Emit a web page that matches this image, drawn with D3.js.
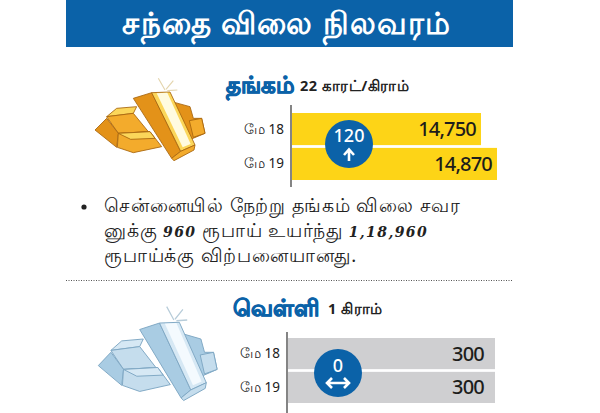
<!DOCTYPE html>
<html>
<head>
<meta charset="utf-8">
<script src="https://cdn.jsdelivr.net/npm/d3@7"></script>
<style>
  html, body { margin: 0; padding: 0; background: #fff; }
  svg { display: block; }
  text { font-family: "Noto Sans", "Liberation Sans", sans-serif; }
</style>
</head>
<body>
<svg id="chart" width="600" height="413"></svg>
<script>
const dates = ["மே 18", "மே 19"];
const goldValues = [14750, 14870];
const silverValues = [300, 300];
const goldChange = "120";
const silverChange = "0";
const titleText = "சந்தை விலை நிலவரம்";
const goldName = "தங்கம்";
const goldUnit = "22 காரட்/கிராம்";
const silverName = "வெள்ளி";
const silverUnit = "1 கிராம்";
const noteLines = [
  "சென்னையில் நேற்று தங்கம் விலை சவர",
  "னுக்கு 960 ரூபாய் உயர்ந்து 1,18,960",
  "ரூபாய்க்கு விற்பனையானது."
];

const BLUE = "#0b62a8";
const svg = d3.select("#chart");

// title band
svg.append("rect").attr("x", 66).attr("y", 0).attr("width", 447).attr("height", 47).attr("fill", BLUE);
svg.append("text").attr("x", 287).attr("y", 33.5).attr("text-anchor", "middle")
  .attr("font-size", 30.5).attr("letter-spacing", 1.2).attr("font-weight", 700).attr("fill", "#fff").text(titleText);

// headings
function heading(x, y, name, unit, unitX) {
  svg.append("text").attr("x", x).attr("y", y).attr("font-size", 23).attr("font-weight", 900)
    .attr("fill", BLUE).attr("stroke", BLUE).attr("stroke-width", 0.9).text(name);
  svg.append("text").attr("x", unitX).attr("y", y - 2).attr("font-size", 14.5).attr("font-weight", 700)
    .attr("font-family", "DejaVu Sans, Noto Sans, sans-serif")
    .attr("fill", "#222").attr("letter-spacing", 0.5).text(unit);
}
heading(226, 93, goldName, goldUnit, 300);
heading(233, 316, silverName, silverUnit, 328);

// one bar panel
function panel(opts) {
  const y = d3.scaleBand().domain(dates).range([opts.top, opts.bottom]).paddingInner(0.08);
  const x = d3.scaleLinear().domain(opts.domain).range([opts.left, opts.right]);
  const g = svg.append("g");

  g.selectAll("rect.bar").data(opts.values).join("rect")
    .attr("class", "bar")
    .attr("x", opts.left)
    .attr("y", (d, i) => y(dates[i]))
    .attr("width", d => x(d) - opts.left)
    .attr("height", y.bandwidth())
    .attr("fill", opts.color);

  g.append("line").attr("x1", opts.left - 1).attr("x2", opts.left - 1)
    .attr("y1", opts.axisTop).attr("y2", opts.axisBottom)
    .attr("stroke", "#333").attr("stroke-width", 1.2);

  g.selectAll("text.date").data(dates).join("text")
    .attr("class", "date")
    .attr("x", opts.left - 8)
    .attr("y", d => y(d) + y.bandwidth() / 2 + 4.5)
    .attr("text-anchor", "end").attr("font-size", 13.5).attr("fill", "#222")
    .text(d => d);

  g.selectAll("text.val").data(opts.values).join("text")
    .attr("class", "val")
    .attr("x", d => x(d) - opts.valuePad)
    .attr("y", (d, i) => y(dates[i]) + y.bandwidth() / 2 + 7)
    .attr("text-anchor", "end").attr("font-size", 20).attr("font-weight", 500)
    .attr("letter-spacing", -0.8)
    .attr("font-family", "Roboto").attr("fill", "#1d1d1b")
    .text(d => opts.format(d));

  // change badge
  const badge = g.append("g").attr("transform", `translate(${opts.badgeX},${opts.badgeY})`);
  badge.append("circle").attr("r", 24).attr("fill", BLUE);
  badge.append("text").attr("y", opts.changeY).attr("text-anchor", "middle")
    .attr("font-family", "Roboto").attr("font-weight", 500).attr("font-size", 18)
    .attr("fill", "#fff").text(opts.change);
  opts.arrow(badge);
}

const fmt = d3.format(",");

panel({
  values: goldValues, domain: [13332, 14870], left: 292, right: 497,
  top: 113, bottom: 180, axisTop: 105, axisBottom: 187, color: "#fdd417",
  badgeX: 349, badgeY: 144, changeY: -2.5, valuePad: 5, change: goldChange, format: fmt,
  arrow: b => {
    b.append("path").attr("d", "M0,17V6M-5,11L0,5.5L5,11").attr("fill", "none")
      .attr("stroke", "#fff").attr("stroke-width", 2.6);
  }
});

panel({
  values: silverValues, domain: [0, 300], left: 288, right: 495,
  top: 338, bottom: 403, axisTop: 332, axisBottom: 413, color: "#cfcfd1",
  badgeX: 338, badgeY: 373, changeY: -1, valuePad: 11, change: silverChange, format: fmt,
  arrow: b => {
    b.append("path").attr("d", "M-11,10H11M-6,5L-11,10L-6,15M6,5L11,10L6,15").attr("fill", "none")
      .attr("stroke", "#fff").attr("stroke-width", 2.6);
  }
});

// note text, digits in the wide italic face
svg.append("circle").attr("cx", 84).attr("cy", 207).attr("r", 2.6).attr("fill", "#222");
svg.selectAll("text.note").data(noteLines).join("text")
  .attr("class", "note")
  .attr("x", 104)
  .attr("y", (d, i) => 212 + i * 25)
  .attr("font-size", 18.5).attr("letter-spacing", 0.8).attr("fill", "#222")
  .each(function (d) {
    const t = d3.select(this);
    d.split(/([0-9,]{3,})/).forEach(part => {
      const s = t.append("tspan").text(part);
      if (/^[0-9,]+$/.test(part)) {
        s.attr("font-family", "DejaVu Serif").attr("font-style", "italic")
          .attr("font-weight", 700).attr("font-size", 14).attr("letter-spacing", 1.4);
      }
    });
  });

// dotted divider
svg.append("line").attr("x1", 66).attr("x2", 513).attr("y1", 280.5).attr("y2", 280.5)
  .attr("stroke", "#555").attr("stroke-width", 1).attr("stroke-dasharray", "1 1.5");

// bullion illustration, drawn in a 3x box and scaled down
function bullion(tx, ty, sx, sy, c) {
  const g = svg.append("g").attr("transform", `translate(${tx},${ty}) scale(${sx},${sy})`)
    .attr("stroke", c.line).attr("stroke-width", 2.6).attr("stroke-linejoin", "round");
  const poly = (pts, fill) => g.append("polygon").attr("points", pts).attr("fill", fill);
  // pile behind
  poly("50,140 80,115 140,110 130,130", c.light);
  poly("50,140 130,130 175,185 85,190", c.mid);
  poly("15,180 50,145 85,190 80,232", c.dark);
  poly("85,190 180,185 215,230 130,248 82,232", c.mid);
  poly("85,190 180,185 195,205 122,208", c.light);
  poly("245,95 300,110 310,145 335,145 345,190 285,215 250,150", c.dark);
  poly("298,152 335,145 345,190 310,202", c.mid);
  // tall bar in front
  poly("130,85 185,68 272,244 245,265", c.dark);
  poly("185,68 240,66 315,225 272,244", c.light);
  g.append("polygon").attr("points", "200,70 232,68 302,222 278,232").attr("fill", c.shine).attr("stroke", "none");
  poly("245,265 272,244 315,225 312,240 252,272", c.mid);
  // sparkle
  g.append("path").attr("d", "M225,60L205,25M228,58L250,32M232,62L262,60")
    .attr("stroke", c.spark).attr("stroke-width", 3.5).attr("fill", "none");
}
bullion(90, 70, 1 / 3, 1 / 3, { line: "#a8660f", light: "#fbd65a", mid: "#f3ab2c", dark: "#e39219", shine: "#fffbe0", spark: "#e4d5ae" });
bullion(92.9, 297.2, 0.36, 0.38, { line: "#7fa8c4", light: "#d6e8f4", mid: "#c5dded", dark: "#a9cce3", shine: "#f4fafe", spark: "#b7ccd9" });
</script>
</body>
</html>
